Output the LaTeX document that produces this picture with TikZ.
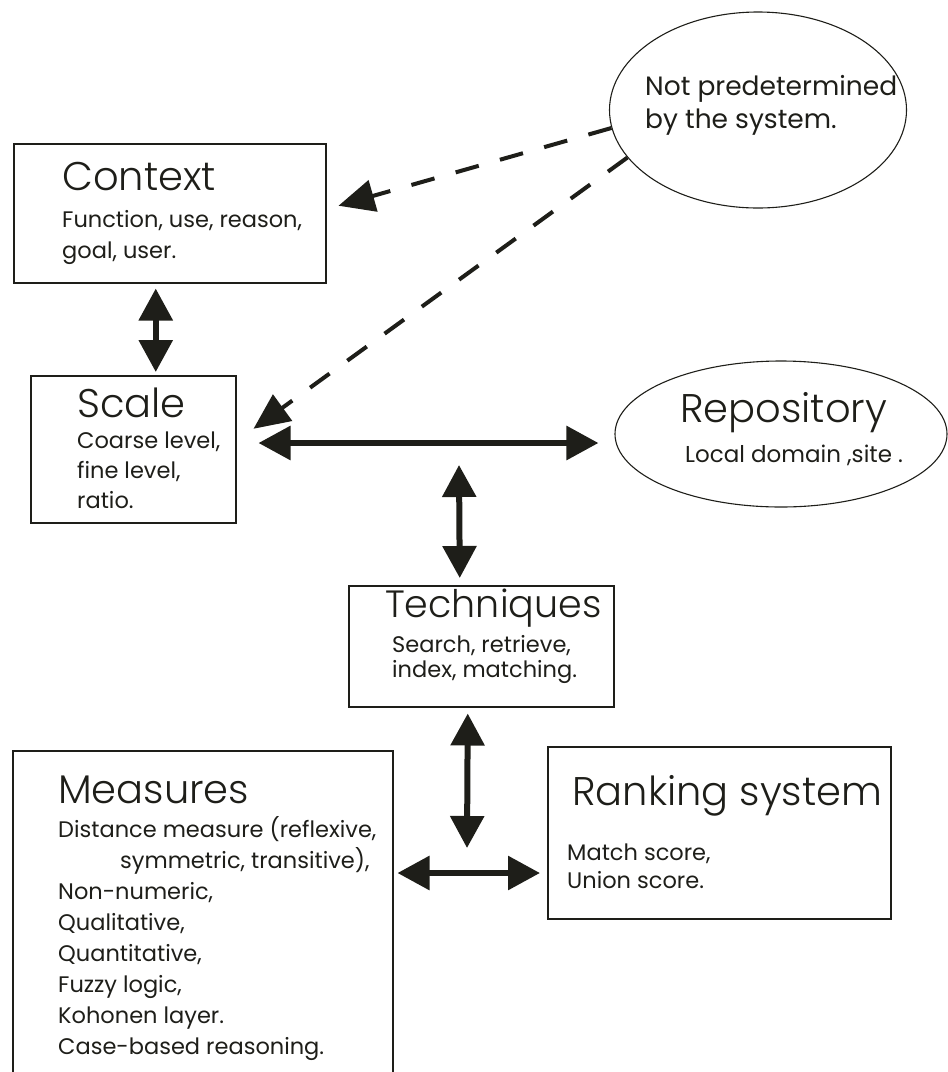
\documentclass[tikz,border=0pt]{standalone}
\usepackage{fontspec}
\setmainfont{Poppins}
\newfontfamily\titlefont{Poppins Light}
\usetikzlibrary{arrows.meta,shapes.geometric,calc}
\definecolor{ink}{RGB}{30,30,25}
\begin{document}
\begin{tikzpicture}[x=1pt,y=-1pt,
  box/.style={draw=ink,line width=1.5pt,rectangle,inner sep=0pt,anchor=north west},
  oval/.style={draw=ink,line width=1.1pt,ellipse,inner sep=0pt},
  ttl/.style={anchor=base west,inner sep=0pt,font=\titlefont\fontsize{40}{40}\selectfont,text=ink},
  body/.style={anchor=base west,inner sep=0pt,align=left,font=\fontsize{22.5}{31}\selectfont,text=ink},
  bi/.style={draw=ink,line width=6pt,arrows={Triangle[length=32pt,width=33pt]-Triangle[length=32pt,width=33pt]}},
  dasharrow/.style={draw=ink,line width=4pt,dash pattern=on 24pt off 22pt,arrows={-Triangle[length=36pt,width=32pt]}}]
\useasboundingbox (0,0) rectangle (948,1072);
\clip (0,0) rectangle (948,1072);

% boxes and ellipses
\node[box,minimum width=312pt,minimum height=139pt] (context) at (13,143) {};
\node[box,minimum width=205pt,minimum height=147pt] (scale) at (30,375) {};
\node[box,minimum width=265pt,minimum height=121pt] (tech) at (348,585) {};
\node[box,minimum width=380pt,minimum height=340pt] (meas) at (12,750) {};
\node[box,minimum width=343pt,minimum height=172pt] (rank) at (547,746) {};
\node[oval,minimum width=297pt,minimum height=196pt] (np) at (758,110) {};
\node[oval,minimum width=332pt,minimum height=146pt] (repo) at (781,434) {};

% texts (multi-line nodes are placed by the baseline of their last line)
\node[ttl] (contextT) at (62,190) {Context};
\node[body] (contextB) at (62,258) {Function, use, reason,\\goal, user.};
\node[ttl] (scaleT) at (77,417) {Scale};
\node[body,font=\fontsize{22.5}{30}\selectfont] (scaleB) at (77,508) {Coarse level,\\fine level,\\ratio.};
\node[ttl] (repoT) at (680,422) {Repository};
\node[body,font=\fontsize{23}{30}\selectfont] (repoB) at (685,462) {Local domain ,site .};
\node[body,font=\fontsize{26.5}{33}\selectfont] (npB) at (645,128) {Not predetermined\\by the system.};
\node[ttl,font=\titlefont\fontsize{38}{38}\selectfont] (techT) at (385,617) {Techniques};
\node[body,font=\fontsize{22.5}{25}\selectfont] (techB) at (392,677) {Search, retrieve,\\index, matching.};
\node[ttl] (measT) at (58,803) {Measures};
\node[body] (measB) at (58,1054) {Distance measure (reflexive,\\\hspace*{62pt}symmetric, transitive),\\Non-numeric,\\Qualitative,\\Quantitative,\\Fuzzy logic,\\Kohonen layer.\\Case-based reasoning.};
\node[ttl] (rankT) at (572,805) {Ranking system};
\node[body,font=\fontsize{22.5}{28}\selectfont] (rankB) at (567,888) {Match score,\\Union score.};

% hub points
\coordinate (hubmid) at (459,443);
\coordinate (hubtop) at (459,465);
\coordinate (hubbot) at (467,848);
\coordinate (hublow) at (467,873);

% connectors
\draw[bi] ([xshift=-14pt,yshift=-5pt]context.south) -- ([xshift=22.5pt,yshift=3pt]scale.north);
\draw[bi] ([xshift=22pt]scale.east |- hubmid) -- ([xshift=-16pt]repo.west |- hubmid);
\draw[bi] (hubtop) -- ([xshift=-21.5pt,yshift=7pt]tech.north);
\draw[bi] ([xshift=-13.5pt,yshift=-6pt]tech.south) -- (hubbot);
\draw[bi] ([xshift=4pt]meas.east |- hublow) -- ([xshift=-7pt]rank.west |- hublow);
\draw[dasharrow] (np.187.9) -- ([xshift=12pt,yshift=7.5pt]context.east);
\draw[dasharrow] (np.200.5) -- ([xshift=17pt,yshift=20.5pt]scale.east);
\end{tikzpicture}
\end{document}
